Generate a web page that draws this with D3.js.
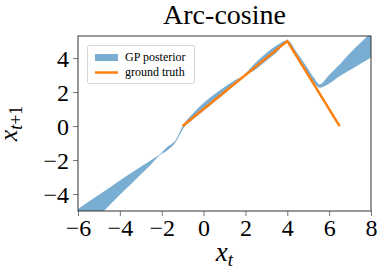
<!DOCTYPE html>
<html>
<head>
<meta charset="utf-8">
<script src="https://cdn.jsdelivr.net/npm/d3@7"></script>
<style>
  body { margin: 0; background: #fff; }
  svg { display: block; }
  text { font-family: "Liberation Serif", serif; }
</style>
</head>
<body>
<script>
// GP posterior band
var bandX     = [-6, -5, -4, -3, -2.5, -2.12, -1.75, -1.3, -1, -0.5, 0, 0.5, 1, 1.5, 1.82, 2.5, 3, 3.5, 4, 4.5, 5, 5.3, 5.55, 6, 6.5, 7, 7.5, 8];
var bandLower = [-6.55, -5.3, -4.05, -2.85, -2.25, -1.73, -1.45, -0.88, -0.2, 0.4, 0.9, 1.4, 1.9, 2.45, 2.86, 3.35, 3.85, 4.35, 4.95, 4.0, 3.05, 2.5, 2.25, 2.5, 2.93, 3.3, 3.67, 4.04];
var bandUpper = [-4.88, -4.05, -3.2, -2.4, -2.0, -1.69, -1.25, -0.76, 0.0, 0.75, 1.35, 1.85, 2.3, 2.7, 2.9, 3.75, 4.3, 4.75, 5.05, 4.25, 3.35, 2.8, 2.45, 3.0, 3.62, 4.3, 4.9, 5.5];

// ground truth
var truthX = [-1, 4, 6.5];
var truthY = [0, 5, 0];

var xTicks = [-6, -4, -2, 0, 2, 4, 6, 8];
var yTicks = [-4, -2, 0, 2, 4];

var width = 382, height = 274;
var margin = { top: 36, right: 11, bottom: 63, left: 78 };

var svg = d3.select('body').append('svg')
  .attr('width', width)
  .attr('height', height);

var x = d3.scaleLinear().domain([-6, 8]).range([margin.left, width - margin.right]);
var y = d3.scaleLinear().domain([-5, 5.3]).range([height - margin.bottom, margin.top]);

svg.append('clipPath').attr('id', 'plot-clip')
  .append('rect')
    .attr('x', x(-6)).attr('y', y(5.3))
    .attr('width', x(8) - x(-6)).attr('height', y(-5) - y(5.3));

var band = bandX.map(function(d, i) { return { x: d, lo: bandLower[i], hi: bandUpper[i] }; });
var truth = truthX.map(function(d, i) { return { x: d, y: truthY[i] }; });

var plot = svg.append('g').attr('clip-path', 'url(#plot-clip)');

plot.append('path')
  .datum(band)
  .attr('fill', '#1f77b4')
  .attr('fill-opacity', 0.6)
  .attr('d', d3.area()
    .curve(d3.curveMonotoneX)
    .x(function(d) { return x(d.x); })
    .y0(function(d) { return y(d.lo); })
    .y1(function(d) { return y(d.hi); }));

plot.append('path')
  .datum(truth)
  .attr('fill', 'none')
  .attr('stroke', '#ff7f0e')
  .attr('stroke-width', 2.5)
  .attr('d', d3.line()
    .x(function(d) { return x(d.x); })
    .y(function(d) { return y(d.y); }));

function fmt(d) { return d < 0 ? '\u2212' + (-d) : d; }

// axes
var xAxis = svg.append('g')
  .attr('transform', 'translate(0,' + y(-5) + ')')
  .call(d3.axisBottom(x).tickValues(xTicks).tickSize(5).tickPadding(3).tickFormat(fmt));

var yAxis = svg.append('g')
  .attr('transform', 'translate(' + x(-6) + ',0)')
  .call(d3.axisLeft(y).tickValues(yTicks).tickSize(5).tickPadding(4).tickFormat(fmt));

[xAxis, yAxis].forEach(function(a) {
  a.attr('font-family', '"Liberation Serif", serif').attr('font-size', 24);
  a.select('.domain').remove();
  a.selectAll('line').attr('stroke', '#555').attr('stroke-width', 0.8);
  a.selectAll('text').attr('fill', '#000');
});
yAxis.selectAll('text').attr('dy', '0.35em');

// frame
svg.append('rect')
  .attr('x', x(-6)).attr('y', y(5.3))
  .attr('width', x(8) - x(-6)).attr('height', y(-5) - y(5.3))
  .attr('fill', 'none')
  .attr('stroke', '#333')
  .attr('stroke-width', 1);

// title
svg.append('text')
  .attr('x', (x(-6) + x(8)) / 2)
  .attr('y', 24)
  .attr('text-anchor', 'middle')
  .attr('font-size', 28)
  .text('Arc-cosine');

// axis labels
var xl = svg.append('text')
  .attr('x', (x(-6) + x(8)) / 2)
  .attr('y', 261)
  .attr('text-anchor', 'middle')
  .attr('font-style', 'italic')
  .attr('font-size', 27);
xl.append('tspan').text('x');
xl.append('tspan').attr('dy', 5).attr('font-size', 19).text('t');

var yl = svg.append('text')
  .attr('transform', 'translate(17,' + ((y(-5) + y(5.3)) / 2) + ') rotate(-90)')
  .attr('text-anchor', 'middle')
  .attr('font-size', 26);
yl.append('tspan').attr('font-style', 'italic').text('x');
yl.append('tspan').attr('dy', 5).attr('font-size', 18).attr('font-style', 'italic').text('t');
yl.append('tspan').attr('font-size', 18).text('+1');

// legend
var legend = svg.append('g');
legend.append('rect')
  .attr('x', 87.5).attr('y', 45.5)
  .attr('width', 107).attr('height', 38)
  .attr('rx', 2)
  .attr('fill', '#fff').attr('fill-opacity', 0.8)
  .attr('stroke', '#ccc').attr('stroke-width', 0.8);
legend.append('rect')
  .attr('x', 95).attr('y', 54)
  .attr('width', 23).attr('height', 7)
  .attr('fill', '#1f77b4').attr('fill-opacity', 0.6);
legend.append('line')
  .attr('x1', 95).attr('x2', 118)
  .attr('y1', 72.5).attr('y2', 72.5)
  .attr('stroke', '#ff7f0e').attr('stroke-width', 2.5);
legend.append('text')
  .attr('x', 125).attr('y', 61)
  .attr('font-size', 12)
  .text('GP posterior');
legend.append('text')
  .attr('x', 125).attr('y', 76)
  .attr('font-size', 12)
  .text('ground truth');
</script>
</body>
</html>
